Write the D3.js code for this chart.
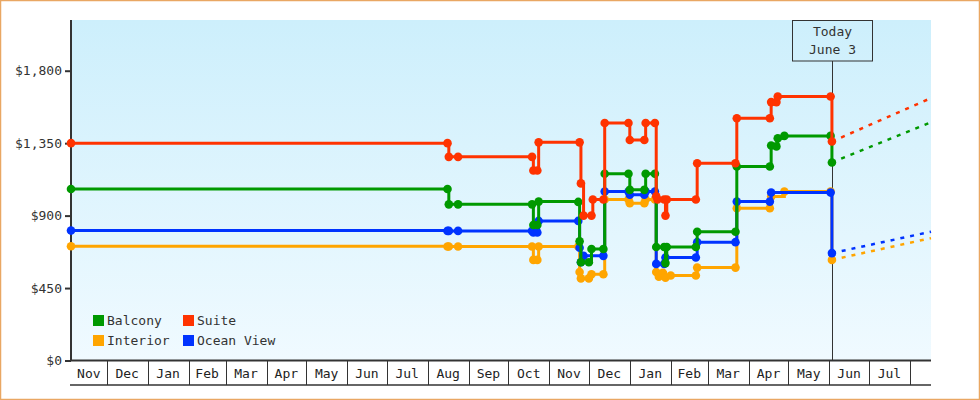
<!DOCTYPE html>
<html><head><meta charset="utf-8">
<script src="https://cdn.jsdelivr.net/npm/d3@7"></script>
<style>body{margin:0;background:#fff}svg{display:block;font-family:"DejaVu Sans Mono",monospace;}</style>
</head><body><svg id="c" width="980" height="400"></svg>
<script>
// ---------- data ----------
const seriesNames = ["Balcony", "Suite", "Interior", "Ocean View"];
const seriesColors = ["#009900", "#ff3300", "#ffa500", "#0033ff"];
const drawOrder = ["Interior", "Ocean View", "Balcony", "Suite"];
const yTicks = [0, 450, 900, 1350, 1800];
const domainStart = "2012-11-04";
const domainEnd = "2014-08-17";
const todayDate = "2014-06-03";
const todayLabel = ["Today", "June 3"];

const balcony = [
  ["2012-11-04",1065],["2013-08-16",1065],["2013-08-17",970],["2013-08-24",970],
  ["2013-10-19",970],["2013-10-20",842],["2013-10-23",842],["2013-10-24",987],
  ["2013-11-23",985],["2013-11-24",740],["2013-11-25",610],["2013-12-01",610],
  ["2013-12-03",693],["2013-12-12",693],["2013-12-13",1160],["2013-12-31",1160],
  ["2014-01-01",1060],["2014-01-12",1060],["2014-01-13",1160],["2014-01-20",1160],
  ["2014-01-21",705],["2014-01-27",705],["2014-01-28",605],["2014-01-29",705],
  ["2014-02-20",705],["2014-02-21",800],["2014-03-22",800],["2014-03-23",1205],
  ["2014-04-17",1205],["2014-04-18",1335],["2014-04-22",1330],["2014-04-23",1380],
  ["2014-04-28",1395],["2014-06-02",1395],["2014-06-03",1230]
];
const suite = [
  ["2012-11-04",1350],["2013-08-16",1350],["2013-08-17",1265],["2013-08-24",1265],
  ["2013-10-19",1265],["2013-10-20",1180],["2013-10-23",1180],["2013-10-24",1355],
  ["2013-11-24",1355],["2013-11-25",1100],["2013-11-27",900],["2013-12-03",900],
  ["2013-12-04",1000],["2013-12-12",1000],["2013-12-13",1475],["2013-12-31",1475],
  ["2014-01-01",1370],["2014-01-12",1370],["2014-01-13",1475],["2014-01-20",1475],
  ["2014-01-21",1020],["2014-01-22",1000],["2014-01-27",1000],["2014-01-28",900],
  ["2014-01-29",1000],["2014-02-20",1000],["2014-02-21",1225],["2014-03-22",1225],
  ["2014-03-23",1505],["2014-04-17",1505],["2014-04-18",1605],["2014-04-22",1605],
  ["2014-04-23",1640],["2014-06-02",1640],["2014-06-03",1360]
];
const interior = [
  ["2012-11-04",710],["2013-08-16",708],["2013-08-17",708],["2013-08-24",708],
  ["2013-10-19",708],["2013-10-20",625],["2013-10-23",625],["2013-10-24",708],
  ["2013-11-23",708],["2013-11-24",550],["2013-11-25",510],["2013-12-01",510],
  ["2013-12-03",536],["2013-12-12",536],["2013-12-13",1000],["2013-12-31",1000],
  ["2014-01-01",977],["2014-01-12",977],["2014-01-13",1000],["2014-01-20",1000],
  ["2014-01-21",550],["2014-01-23",520],["2014-01-26",545],["2014-01-28",515],
  ["2014-02-01",528],["2014-02-20",528],["2014-02-21",577],["2014-03-22",577],
  ["2014-03-23",946],["2014-04-17",946],["2014-04-18",1018],["2014-04-28",1049],
  ["2014-06-02",1049],["2014-06-03",625]
];
const oceanView = [
  ["2012-11-04",807],["2013-08-16",805],["2013-08-17",805],["2013-08-24",805],
  ["2013-10-19",805],["2013-10-20",795],["2013-10-23",795],["2013-10-24",867],
  ["2013-11-23",867],["2013-11-24",700],["2013-11-25",610],["2013-11-27",650],
  ["2013-12-12",650],["2013-12-13",1050],["2013-12-31",1050],["2014-01-01",1030],
  ["2014-01-12",1030],["2014-01-13",1050],["2014-01-20",1050],["2014-01-21",600],
  ["2014-01-27",600],["2014-01-28",640],["2014-02-20",640],["2014-02-21",735],
  ["2014-03-22",735],["2014-03-23",987],["2014-04-17",987],["2014-04-18",1043],
  ["2014-06-02",1043],["2014-06-03",667]
];
// projected price at the end of the window
const projectionEnd = [1480, 1630, 760, 800]; // Balcony, Suite, Interior, Ocean View

// ---------- chart ----------
const parse = d3.utcParse("%Y-%m-%d");
const seriesData = [balcony, suite, interior, oceanView];
const W = 980, H = 400;
const L = 71, R = 931, T = 20, B = 360.5;
const svg = d3.select("#c");

const x = d3.scaleUtc().domain([parse(domainStart), parse(domainEnd)]).range([L, R]);
const y = d3.scaleLinear().domain([0, 2115]).range([B, T]);

// background gradient
const defs = svg.append("defs");
const grad = defs.append("linearGradient").attr("id", "bg").attr("x1", 0).attr("y1", 0).attr("x2", 0).attr("y2", 1);
grad.append("stop").attr("offset", "0%").attr("stop-color", "#cdeffc");
grad.append("stop").attr("offset", "100%").attr("stop-color", "#f0faff");
svg.append("rect").attr("x", L).attr("y", T).attr("width", R - L).attr("height", B - T).attr("fill", "url(#bg)");

// frame
svg.append("rect").attr("x", 0.5).attr("y", 0.5).attr("width", W - 1).attr("height", H - 1)
  .attr("fill", "none").attr("stroke", "#e9a763").attr("stroke-width", 1.5);

// y axis
const yAxis = d3.axisLeft(y).tickValues(yTicks).tickFormat(d3.format("$,")).tickSize(6).tickPadding(3);
const gy = svg.append("g").attr("transform", `translate(${L},0)`).call(yAxis);
gy.select(".domain").remove();
gy.selectAll(".tick line").attr("stroke", "#333").attr("stroke-width", 2);
gy.selectAll(".tick text").attr("fill", "#333").style("font-family", "DejaVu Sans Mono, monospace").style("font-size", "13px");
svg.append("line").attr("x1", L).attr("x2", L).attr("y1", T).attr("y2", B + 0.5).attr("stroke", "#333").attr("stroke-width", 2);

// x axis month cells
const start = parse(domainStart), end = parse(domainEnd);
const bounds = d3.utcMonth.range(d3.utcMonth.ceil(start), end);
const cellTop = B, cellBot = 385;
svg.append("g").selectAll("line").data(bounds).join("line")
  .attr("x1", d => Math.round(x(d)) + 0.5).attr("x2", d => Math.round(x(d)) + 0.5)
  .attr("y1", cellTop).attr("y2", cellBot).attr("stroke", "#333").attr("stroke-width", 1);
const cells = [start, ...bounds].map((d, i, a) => ({ s: d, e: i + 1 < a.length ? a[i + 1] : end, m: d3.utcMonth.floor(d) }));
svg.append("g").selectAll("text").data(cells.filter(c => x(c.e) - x(c.s) > 28)).join("text")
  .attr("x", c => (x(c.s) + x(c.e)) / 2).attr("y", 378).attr("text-anchor", "middle")
  .attr("fill", "#222").style("font-size", "13px").text(c => d3.utcFormat("%b")(c.m));
svg.append("line").attr("x1", L - 1).attr("x2", R).attr("y1", B).attr("y2", B).attr("stroke", "#333").attr("stroke-width", 2);
svg.append("line").attr("x1", L - 1).attr("x2", R).attr("y1", cellBot).attr("y2", cellBot).attr("stroke", "#333").attr("stroke-width", 1.5);

// today marker
const tx = Math.round(x(parse(todayDate))) + 0.5;
svg.append("line").attr("x1", tx).attr("x2", tx).attr("y1", 61).attr("y2", B).attr("stroke", "#333").attr("stroke-width", 1);
svg.append("rect").attr("x", tx - 40).attr("y", T + 0.5).attr("width", 80).attr("height", 40.5)
  .attr("fill", "none").attr("stroke", "#333").attr("stroke-width", 1);
svg.append("text").attr("x", tx).attr("y", 36).attr("text-anchor", "middle").attr("fill", "#333").style("font-size", "13px").text(todayLabel[0]);
svg.append("text").attr("x", tx).attr("y", 54).attr("text-anchor", "middle").attr("fill", "#333").style("font-size", "13px").text(todayLabel[1]);

// series
const line = d3.line().x(d => x(d.date)).y(d => y(d.v)).curve(d3.curveStepAfter);
const plain = d3.line().x(d => x(d.date)).y(d => y(d.v));
drawOrder.forEach(name => {
  const i = seriesNames.indexOf(name);
  const pts = seriesData[i].map(([d, v]) => ({ date: parse(d), v }));
  const col = seriesColors[i];
  const g = svg.append("g");
  const last = pts[pts.length - 1];
  g.append("path").datum([last, { date: end, v: projectionEnd[i] }]).attr("d", plain)
    .attr("fill", "none").attr("stroke", col).attr("stroke-width", 2.5).attr("stroke-dasharray", "4,6");
  g.append("path").datum(pts).attr("d", line).attr("fill", "none").attr("stroke", col).attr("stroke-width", 3);
  g.selectAll("circle").data(pts).join("circle")
    .attr("cx", d => x(d.date)).attr("cy", d => y(d.v)).attr("r", 4.3).attr("fill", col);
});

// legend
const leg = svg.append("g");
const legPos = [[93, 315], [183, 315], [93, 335], [183, 335]];
seriesNames.forEach((n, i) => {
  leg.append("rect").attr("x", legPos[i][0]).attr("y", legPos[i][1]).attr("width", 11).attr("height", 11).attr("fill", seriesColors[i]);
  leg.append("text").attr("x", legPos[i][0] + 14).attr("y", legPos[i][1] + 10).attr("fill", "#333").style("font-size", "13px").text(n);
});
</script></body></html>
